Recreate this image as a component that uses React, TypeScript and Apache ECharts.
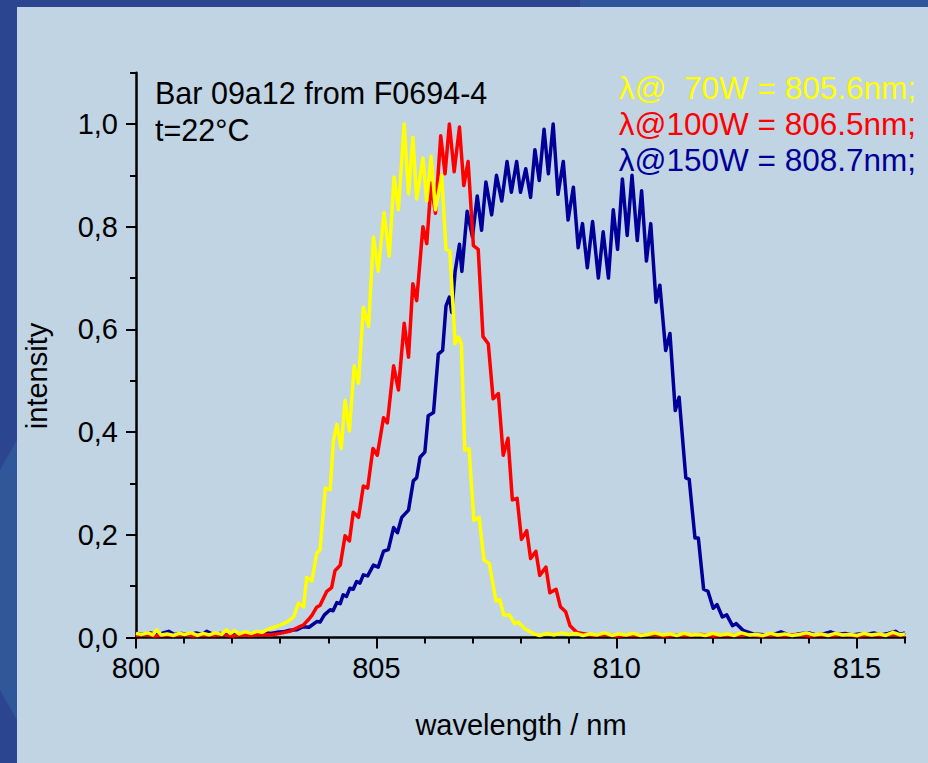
import React, { useEffect, useRef } from "react";
import * as echarts from "echarts";

// ---- data ----
const blueWavelength = [
  800.0, 800.15, 800.3, 800.45, 800.6, 800.68, 800.8, 800.95, 801.1, 801.25, 801.38, 801.47, 801.6, 801.75, 801.9,
  802.05, 802.2, 802.35, 802.5, 802.65, 802.8, 802.93, 803.06, 803.2, 803.34, 803.48, 803.6, 803.76, 803.83, 803.92,
  804.04, 804.1, 804.18, 804.25, 804.31, 804.38, 804.45, 804.52, 804.59, 804.66, 804.73, 804.82, 804.94, 805.04,
  805.15, 805.25, 805.36, 805.44, 805.53, 805.67, 805.77, 805.84, 805.91, 806.01, 806.08, 806.19, 806.29, 806.38,
  806.45, 806.52, 806.57, 806.64, 806.73, 806.78, 806.89, 807.0, 807.1, 807.19, 807.28, 807.4, 807.5, 807.61, 807.72,
  807.81, 807.92, 808.0, 808.11, 808.21, 808.3, 808.39, 808.49, 808.58, 808.68, 808.78, 808.89, 808.99, 809.1,
  809.2, 809.29, 809.39, 809.5, 809.62, 809.72, 809.83, 809.93, 810.02, 810.12, 810.22, 810.32, 810.43, 810.52,
  810.62, 810.71, 810.82, 810.9, 811.02, 811.11, 811.22, 811.3, 811.44, 811.51, 811.63, 811.7, 811.81, 811.9,
  812.01, 812.09, 812.2, 812.29, 812.41, 812.49, 812.63, 812.84, 813.0, 813.15, 813.3, 813.42, 813.55, 813.7,
  813.85, 814.0, 814.15, 814.3, 814.45, 814.6, 814.75, 814.9, 815.05, 815.2, 815.35, 815.5, 815.65, 815.8, 815.9, 816.0,
];
const blueIntensity = [
  0.008, 0.006, 0.009, 0.005, 0.01, 0.012, 0.006, 0.008, 0.005, 0.009, 0.006, 0.012, 0.006, 0.008, 0.005,
  0.009, 0.006, 0.008, 0.007, 0.01, 0.008, 0.01, 0.011, 0.014, 0.015, 0.021, 0.02, 0.031, 0.03, 0.044,
  0.054, 0.052, 0.068, 0.066, 0.083, 0.08, 0.096, 0.094, 0.109, 0.106, 0.122, 0.12, 0.141, 0.137,
  0.168, 0.171, 0.214, 0.204, 0.234, 0.248, 0.305, 0.311, 0.351, 0.361, 0.432, 0.438, 0.552, 0.559,
  0.646, 0.663, 0.633, 0.713, 0.766, 0.713, 0.83, 0.78, 0.86, 0.793, 0.887, 0.823, 0.9, 0.85, 0.927,
  0.867, 0.927, 0.867, 0.913, 0.857, 0.95, 0.89, 0.99, 0.903, 1.0, 0.863, 0.927, 0.813, 0.877,
  0.759, 0.806, 0.72, 0.81, 0.7, 0.79, 0.7, 0.833, 0.756, 0.893, 0.783, 0.9, 0.773, 0.87,
  0.733, 0.806, 0.653, 0.686, 0.559, 0.592, 0.442, 0.468, 0.311, 0.308, 0.194, 0.194, 0.094, 0.09,
  0.057, 0.064, 0.04, 0.044, 0.023, 0.027, 0.014, 0.007, 0.006, 0.004, 0.007, 0.011, 0.006, 0.005,
  0.008, 0.009, 0.005, 0.007, 0.011, 0.006, 0.008, 0.005, 0.007, 0.006, 0.009, 0.005, 0.008, 0.012, 0.006, 0.009,
];

const redWavelength = [
  800.0, 800.2, 800.4, 800.6, 800.8, 801.0, 801.2, 801.4, 801.6, 801.8, 802.0, 802.2, 802.4, 802.6, 802.8, 803.0,
  803.2, 803.38, 803.48, 803.58, 803.66, 803.76, 803.83, 803.97, 804.07, 804.14, 804.25, 804.35, 804.44, 804.52,
  804.63, 804.73, 804.82, 804.93, 805.02, 805.15, 805.23, 805.36, 805.46, 805.58, 805.67, 805.76, 805.84, 805.97,
  806.05, 806.14, 806.23, 806.34, 806.43, 806.52, 806.62, 806.73, 806.82, 806.91, 807.02, 807.12, 807.22, 807.33,
  807.43, 807.54, 807.64, 807.74, 807.83, 807.93, 808.02, 808.13, 808.21, 808.32, 808.4, 808.53, 808.61, 808.74,
  808.83, 808.94, 809.03, 809.17, 809.34, 809.5, 809.75, 810.0, 810.25, 810.5, 810.75, 811.0, 811.25, 811.5,
  811.75, 812.0, 812.25, 812.5, 812.75, 813.0, 813.25, 813.5, 813.75, 814.0, 814.25, 814.5, 814.75, 815.0,
  815.25, 815.5, 815.75, 816.0,
];
const redIntensity = [
  0.004, 0.006, 0.003, 0.005, 0.004, 0.006, 0.003, 0.005, 0.004, 0.006, 0.003, 0.005, 0.004, 0.006, 0.005, 0.008,
  0.012, 0.02, 0.024, 0.034, 0.043, 0.059, 0.063, 0.09, 0.097, 0.13, 0.141, 0.198, 0.188, 0.244,
  0.234, 0.295, 0.291, 0.368, 0.355, 0.428, 0.418, 0.529, 0.482, 0.612, 0.546, 0.689, 0.656, 0.8,
  0.767, 0.885, 0.826, 0.977, 0.903, 1.0, 0.907, 0.994, 0.88, 0.927, 0.763, 0.756, 0.586, 0.572,
  0.465, 0.475, 0.355, 0.388, 0.268, 0.271, 0.191, 0.208, 0.154, 0.168, 0.121, 0.137, 0.087, 0.094,
  0.06, 0.05, 0.023, 0.01, 0.007, 0.004, 0.006, 0.003, 0.005, 0.004, 0.006, 0.003, 0.005, 0.004,
  0.006, 0.003, 0.005, 0.004, 0.006, 0.003, 0.005, 0.004, 0.006, 0.003, 0.005, 0.004, 0.006, 0.003,
  0.005, 0.004, 0.006, 0.004,
];

const yellowWavelength = [
  800.0, 800.12, 800.25, 800.35, 800.43, 800.52, 800.65, 800.78, 800.9, 801.02, 801.15, 801.28, 801.4, 801.52,
  801.65, 801.78, 801.88, 801.96, 802.05, 802.15, 802.27, 802.4, 802.52, 802.62, 802.75, 802.88, 803.0, 803.14,
  803.28, 803.38, 803.49, 803.55, 803.66, 803.76, 803.83, 803.94, 804.04, 804.11, 804.18, 804.27, 804.35, 804.44,
  804.54, 804.63, 804.73, 804.84, 804.94, 805.04, 805.16, 805.27, 805.37, 805.46, 805.58, 805.67, 805.76, 805.84,
  805.97, 806.05, 806.14, 806.23, 806.36, 806.45, 806.53, 806.64, 806.71, 806.77, 806.84, 806.93, 807.03, 807.14,
  807.24, 807.35, 807.49, 807.57, 807.65, 807.77, 807.88, 807.95, 808.09, 808.28, 808.4, 808.55, 808.7, 808.85,
  809.0, 809.15, 809.3, 809.45, 809.6, 809.75, 809.9, 810.05, 810.2, 810.35, 810.5, 810.65, 810.8, 810.95, 811.1,
  811.25, 811.4, 811.55, 811.7, 811.85, 812.0, 812.15, 812.3, 812.45, 812.6, 812.75, 812.9, 813.05, 813.2,
  813.35, 813.5, 813.65, 813.8, 813.95, 814.1, 814.25, 814.4, 814.55, 814.7, 814.85, 815.0, 815.15, 815.3,
  815.45, 815.6, 815.75, 815.9, 816.0,
];
const yellowIntensity = [
  0.008, 0.006, 0.009, 0.005, 0.015, 0.005, 0.007, 0.004, 0.008, 0.006, 0.009, 0.004, 0.008, 0.005,
  0.009, 0.006, 0.015, 0.008, 0.013, 0.007, 0.011, 0.008, 0.012, 0.01, 0.016, 0.02, 0.024, 0.03,
  0.04, 0.067, 0.06, 0.117, 0.11, 0.164, 0.171, 0.291, 0.288, 0.385, 0.415, 0.368, 0.462, 0.402,
  0.529, 0.495, 0.643, 0.606, 0.78, 0.713, 0.827, 0.743, 0.897, 0.833, 1.0, 0.864, 0.974, 0.854,
  0.934, 0.85, 0.937, 0.833, 0.9, 0.756, 0.753, 0.572, 0.585, 0.572, 0.365, 0.368, 0.228, 0.234,
  0.151, 0.144, 0.071, 0.074, 0.044, 0.044, 0.027, 0.03, 0.017, 0.007, 0.004, 0.008, 0.005, 0.009,
  0.006, 0.008, 0.004, 0.007, 0.005, 0.009, 0.004, 0.007, 0.005, 0.008, 0.004, 0.006, 0.009, 0.005, 0.007,
  0.004, 0.008, 0.005, 0.006, 0.004, 0.008, 0.005, 0.007, 0.004, 0.009, 0.005, 0.006, 0.004, 0.008,
  0.005, 0.007, 0.004, 0.006, 0.009, 0.005, 0.007, 0.004, 0.008, 0.005, 0.006, 0.004, 0.008, 0.005,
  0.007, 0.004, 0.01, 0.005, 0.007,
];

const xMajorTicks = [800, 805, 810, 815];
const xMinorTicks = [801, 802, 803, 804, 806, 807, 808, 809, 811, 812, 813, 814, 816];
const yMajorTicks = [0, 0.2, 0.4, 0.6, 0.8, 1.0];
const yMinorTicks = [0.1, 0.3, 0.5, 0.7, 0.9, 1.1];

const xAxisTitle = "wavelength / nm";
const yAxisTitle = "intensity";
const noteLines = ["Bar 09a12 from F0694-4", "t=22°C"];
const seriesNames = ["70W", "100W", "150W"];
const legendTexts = ["λ@  70W = 805.6nm;", "λ@100W = 806.5nm;", "λ@150W = 808.7nm;"];
const seriesColors = ["#ffff00", "#ff0000", "#000099"];

const FONT = "'Liberation Sans', Arial, sans-serif";
const FS = 29;
const NOTE_FS = 30.5;
const LEGEND_FS = 31.5;

function pairs(xs: number[], ys: number[]) {
  return xs.map((x, i) => [x, ys[i]]);
}

export default function App() {
  const ref = useRef<HTMLDivElement>(null);
  useEffect(() => {
    if (!ref.current) return;
    const chart = echarts.init(ref.current, null, { renderer: "svg" });
    const gridRect = { left: 136, right: 23, top: 72.65, bottom: 125.5 };
    const seriesData = [
      pairs(yellowWavelength, yellowIntensity),
      pairs(redWavelength, redIntensity),
      pairs(blueWavelength, blueIntensity),
    ];
    const order = [2, 1, 0];
    chart.setOption({
      animation: false,
      backgroundColor: "#2b4590",
      textStyle: { fontFamily: FONT },
      grid: [
        { ...gridRect, containLabel: false },
        { ...gridRect, containLabel: false },
      ],
      xAxis: [
        {
          type: "value",
          gridIndex: 0,
          min: 800,
          max: 816,
          axisLine: { show: true, lineStyle: { color: "#000", width: 2.5 } },
          axisTick: { show: true, customValues: xMajorTicks, length: 11, lineStyle: { color: "#000", width: 2 } },
          axisLabel: { customValues: xMajorTicks, color: "#000", fontSize: FS, fontFamily: FONT, margin: 16 },
          splitLine: { show: false },
        },
        {
          type: "value",
          gridIndex: 1,
          min: 800,
          max: 816,
          axisLine: { show: false },
          axisTick: { show: true, customValues: xMinorTicks, length: 6, lineStyle: { color: "#000", width: 2 } },
          axisLabel: { show: false },
          splitLine: { show: false },
        },
      ],
      yAxis: [
        {
          type: "value",
          gridIndex: 0,
          min: 0,
          max: 1.1,
          axisLine: { show: true, lineStyle: { color: "#000", width: 2.5 } },
          axisTick: { show: true, customValues: yMajorTicks, length: 10, lineStyle: { color: "#000", width: 2 } },
          axisLabel: {
            customValues: yMajorTicks,
            color: "#000",
            fontSize: FS,
            fontFamily: FONT,
            margin: 18,
            formatter: (v: number) => v.toFixed(1).replace(".", ","),
          },
          splitLine: { show: false },
        },
        {
          type: "value",
          gridIndex: 1,
          min: 0,
          max: 1.1,
          axisLine: { show: false },
          axisTick: { show: true, customValues: yMinorTicks, length: 6, lineStyle: { color: "#000", width: 2 } },
          axisLabel: { show: false },
          splitLine: { show: false },
        },
      ],
      series: order.map((i) => ({
        name: seriesNames[i],
        type: "line",
        xAxisIndex: 0,
        yAxisIndex: 0,
        data: seriesData[i],
        showSymbol: false,
        symbol: "none",
        smooth: false,
        lineStyle: { color: seriesColors[i], width: 3.5, join: "round" },
        itemStyle: { color: seriesColors[i] },
        z: 3,
      })),
      graphic: [
        { type: "rect", z: -100, shape: { x: 580, y: 0, width: 348, height: 12 }, style: { fill: "#30559a" } },
        {
          type: "polygon",
          z: -100,
          shape: { points: [[0, 470], [17, 440], [17, 720], [0, 690]] },
          style: { fill: "#31579b" },
        },
        { type: "rect", z: -90, shape: { x: 17, y: 7, width: 911, height: 756 }, style: { fill: "#c0d4e4" } },
        {
          type: "text",
          z: 100,
          x: 155,
          y: 93,
          style: { text: noteLines[0], fill: "#000", font: `${NOTE_FS}px ${FONT}`, textAlign: "left", textVerticalAlign: "middle" },
        },
        {
          type: "text",
          z: 100,
          x: 155,
          y: 130,
          style: { text: noteLines[1], fill: "#000", font: `${NOTE_FS}px ${FONT}`, textAlign: "left", textVerticalAlign: "middle" },
        },
        ...legendTexts.map((t, i) => ({
          type: "text",
          z: 100,
          x: 916,
          y: 88 + i * 36,
          style: {
            text: t,
            fill: seriesColors[i],
            font: `${LEGEND_FS}px ${FONT}`,
            textAlign: "right",
            textVerticalAlign: "middle",
          },
        })),
        {
          type: "text",
          z: 100,
          x: 521,
          y: 725,
          style: { text: xAxisTitle, fill: "#000", font: `${FS}px ${FONT}`, textAlign: "center", textVerticalAlign: "middle" },
        },
        {
          type: "text",
          z: 100,
          x: 37,
          y: 376,
          rotation: Math.PI / 2,
          style: { text: yAxisTitle, fill: "#000", font: `${FS}px ${FONT}`, textAlign: "center", textVerticalAlign: "middle" },
        },
      ],
    });
    return () => chart.dispose();
  }, []);
  return <div ref={ref} style={{ position: "fixed", left: 0, top: 0, width: 928, height: 763 }} />;
}
